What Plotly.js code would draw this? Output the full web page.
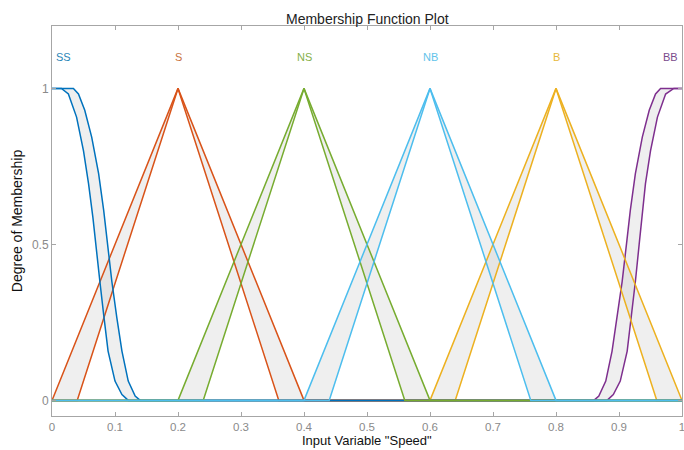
<!DOCTYPE html>
<html>
<head>
<meta charset="utf-8">
<script src="https://cdn.plot.ly/plotly-3.0.1.min.js"></script>
<style>html,body{margin:0;padding:0;background:#fff;}#chart{width:684px;height:450px;}</style>
</head>
<body>
<div id="chart"></div>
<script>
// Membership function names and colours
var mfNames = ["SS", "S", "NS", "NB", "B", "BB"];
var mfColors = ["#0072BD", "#D95319", "#77AC30", "#4DBEEE", "#EDB120", "#7E2F8E"];
var labelX = [0.018, 0.2, 0.4, 0.6, 0.8, 0.982];
var labelY = 1.1;

// Upper / lower membership functions (x, y)
var ssUpX = [0, 0.034, 0.042, 0.052, 0.063, 0.074, 0.082, 0.088, 0.095, 0.103, 0.111, 0.121, 0.132, 0.14, 1];
var ssUpY = [1, 1, 0.982, 0.93, 0.844, 0.727, 0.61, 0.503, 0.381, 0.264, 0.158, 0.062, 0.014, 0, 0];
var ssLoX = [0, 0.015, 0.026, 0.039, 0.05, 0.058, 0.065, 0.07, 0.076, 0.082, 0.089, 0.1, 0.111, 0.121, 1];
var ssLoY = [1, 1, 0.982, 0.908, 0.8, 0.695, 0.585, 0.5, 0.381, 0.275, 0.158, 0.062, 0.019, 0, 0];

var sUpX = [0, 0.2, 0.4, 1];      var sUpY = [0, 1, 0, 0];
var sLoX = [0, 0.04, 0.2, 0.36, 1]; var sLoY = [0, 0, 1, 0, 0];

var nsUpX = [0, 0.2, 0.4, 0.6, 1];  var nsUpY = [0, 0, 1, 0, 0];
var nsLoX = [0, 0.24, 0.4, 0.56, 1]; var nsLoY = [0, 0, 1, 0, 0];

var nbUpX = [0, 0.4, 0.6, 0.8, 1];  var nbUpY = [0, 0, 1, 0, 0];
var nbLoX = [0, 0.44, 0.6, 0.76, 1]; var nbLoY = [0, 0, 1, 0, 0];

var bUpX = [0, 0.6, 0.8, 1];        var bUpY = [0, 0, 1, 0];
var bLoX = [0, 0.64, 0.8, 0.96, 1]; var bLoY = [0, 0, 1, 0, 0];

var bbUpX = [0, 0.86, 0.868, 0.879, 0.889, 0.897, 0.905, 0.912, 0.918, 0.926, 0.937, 0.948, 0.958, 0.966, 1];
var bbUpY = [0, 0, 0.014, 0.062, 0.158, 0.264, 0.381, 0.503, 0.61, 0.727, 0.844, 0.93, 0.982, 1, 1];
var bbLoX = [0, 0.881, 0.891, 0.902, 0.913, 0.92, 0.926, 0.932, 0.942, 0.95, 0.961, 0.974, 0.987, 1];
var bbLoY = [0, 0, 0.019, 0.062, 0.158, 0.275, 0.381, 0.5, 0.695, 0.8, 0.908, 0.982, 1, 1];

var xTicks = [0, 0.1, 0.2, 0.3, 0.4, 0.5, 0.6, 0.7, 0.8, 0.9, 1];
var xTickText = ["0", "0.1", "0.2", "0.3", "0.4", "0.5", "0.6", "0.7", "0.8", "0.9", "1"];
var yTicks = [0, 0.5, 1];
var yTickText = ["0", "0.5", "1"];

var xTitle = 'Input Variable "Speed"';
var yTitle = "Degree of Membership";
var chartTitle = "Membership Function Plot";

// drawing order (last drawn lies on top along the zero line)
var mfs = [
  [bbUpX, bbUpY, bbLoX, bbLoY],
  [bUpX, bUpY, bLoX, bLoY],
  [sUpX, sUpY, sLoX, sLoY],
  [ssUpX, ssUpY, ssLoX, ssLoY],
  [nsUpX, nsUpY, nsLoX, nsLoY],
  [nbUpX, nbUpY, nbLoX, nbLoY]
];
var colorIdx = [5, 4, 1, 0, 2, 3];

var traces = [];
// footprint of uncertainty fills
mfs.forEach(function (m) {
  traces.push({
    x: m[0].concat(m[2].slice().reverse()),
    y: m[1].concat(m[3].slice().reverse()),
    mode: "lines", fill: "toself",
    fillcolor: "rgba(205,205,205,0.33)",
    line: {width: 0}, hoverinfo: "skip", showlegend: false
  });
});
// outlines
mfs.forEach(function (m, i) {
  var c = mfColors[colorIdx[i]];
  traces.push({x: m[0], y: m[1], mode: "lines", line: {color: c, width: 1.5}, showlegend: false});
  traces.push({x: m[2], y: m[3], mode: "lines", line: {color: c, width: 1.5}, showlegend: false});
});

var labelColors = ["#2a86b8", "#c9733e", "#86b04a", "#62c3ea", "#e7b83a", "#7a4a8c"];
var annotations = mfNames.map(function (n, i) {
  return {x: labelX[i], y: labelY, xref: "x", yref: "y", text: n, showarrow: false,
          font: {family: "Liberation Sans, Arial, sans-serif", size: 11, color: labelColors[i]}};
});
annotations.push({x: 0.5, y: -0.0844, xref: "paper", yref: "paper", xanchor: "center", yanchor: "bottom",
  text: xTitle, showarrow: false, borderpad: 0,
  font: {family: "Liberation Sans, Arial, sans-serif", size: 13, color: "#111"}});

var layout = {
  width: 684, height: 450,
  margin: {l: 52, r: 2, t: 26, b: 34},
  paper_bgcolor: "#fff", plot_bgcolor: "#fff",
  showlegend: false,
  title: {text: chartTitle, x: 0.537, xanchor: "center",
          y: 0.958, yref: "container", yanchor: "middle",
          font: {family: "Liberation Sans, Arial, sans-serif", size: 14, color: "#222"}},
  xaxis: {range: [0, 1], tickvals: xTicks, ticktext: xTickText, ticklabeloverflow: "allow",
          showgrid: false, zeroline: false, showline: true, mirror: "ticks",
          linecolor: "#a6a6a6", linewidth: 1, ticks: "inside", ticklen: 4, tickcolor: "#a6a6a6",
          tickfont: {family: "Liberation Sans, Arial, sans-serif", size: 11.5, color: "#8a8a8a"}},
  yaxis: {range: [-0.05, 1.2], tickvals: yTicks, ticktext: yTickText,
          showgrid: false, zeroline: false, showline: true, mirror: "ticks",
          linecolor: "#a6a6a6", linewidth: 1, ticks: "inside", ticklen: 4, tickcolor: "#a6a6a6",
          tickfont: {family: "Liberation Sans, Arial, sans-serif", size: 12, color: "#8a8a8a"},
          title: {text: yTitle, standoff: 6,
                  font: {family: "Liberation Sans Narrow, Liberation Sans, Arial, sans-serif", size: 14, color: "#111"}}},
  annotations: annotations
};

Plotly.newPlot("chart", traces, layout, {displayModeBar: false, staticPlot: true});
</script>
</body>
</html>
